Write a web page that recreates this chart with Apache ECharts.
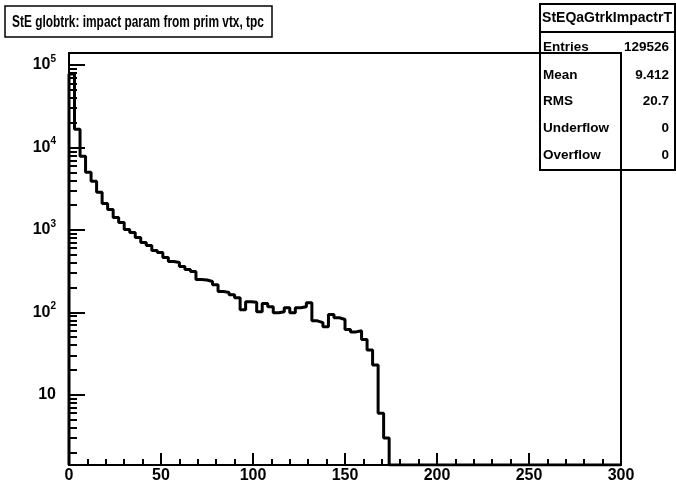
<!DOCTYPE html>
<html>
<head>
<meta charset="utf-8">
<script src="https://cdn.jsdelivr.net/npm/echarts@6/dist/echarts.min.js"></script>
<style>
  html, body { margin: 0; padding: 0; background: #fff; }
  #chart { width: 676px; height: 486px; }
</style>
</head>
<body>
<div id="chart"></div>
<script>
// histogram StEQaGtrkImpactrT : 100 bins, 0..300
var binWidth = 3;
var nBins = 100;
var counts = [
  77700, 16670, 7830, 5000, 3890, 2860, 2100, 1775, 1420, 1233,
  1014, 933, 811, 705, 648, 563, 532, 463, 414, 403,
  360, 331, 313, 250, 247, 237, 217, 179, 174, 164,
  151, 108, 135, 133, 102, 128, 117, 99, 102, 114,
  99, 114, 117, 131, 79, 75, 67, 94, 86, 82,
  62, 58, 60, 47, 35, 23, 6, 3
];
var yMin = 1.41, yMax = 140000;
var yMajorTicks = [10, 100, 1000, 10000, 100000];
var yMinorTicks = [2, 3, 4, 5, 6, 7, 8, 9, 20, 30, 40, 50, 60, 70, 80, 90,
  200, 300, 400, 500, 600, 700, 800, 900, 2000, 3000, 4000, 5000, 6000, 7000, 8000, 9000,
  20000, 30000, 40000, 50000, 60000, 70000, 80000, 90000];

var titleText = 'StE globtrk: impact param from prim vtx, tpc';
var statsTitle = 'StEQaGtrkImpactrT';
var statsNames = ['Entries', 'Mean', 'RMS', 'Underflow', 'Overflow'];
var statsValues = ['129526', '9.412', '20.7', '0', '0'];

var font = '"Liberation Sans", Arial, sans-serif';

// step outline: points at bin low edges, empty bins sit at the axis floor
var pts = [[0, yMin]];
for (var i = 0; i < nBins; i++) {
  var c = i < counts.length ? counts[i] : 0;
  pts.push([i * binWidth, c > 0 ? c : yMin]);
}
pts.push([nBins * binWidth, yMin]);

var graphics = [
  // title box (ROOT text is horizontally squeezed, so the text is scaled)
  {type: 'rect', shape: {x: 5, y: 6, width: 267, height: 31}, z: 10,
   style: {fill: '#fff', stroke: '#000', lineWidth: 1.5}},
  {type: 'text', x: 12, y: 22, scaleX: 0.7, z: 11,
   style: {text: titleText, font: 'bold 17px ' + font, fill: '#000', align: 'left', verticalAlign: 'middle'}},
  // stats box
  {type: 'rect', shape: {x: 540, y: 4, width: 135, height: 166},
   style: {fill: 'none', stroke: '#000', lineWidth: 2}},
  {type: 'line', shape: {x1: 540, y1: 32, x2: 675, y2: 32},
   style: {stroke: '#000', lineWidth: 2}},
  {type: 'text', x: 607, y: 18,
   style: {text: statsTitle, font: 'bold 14px ' + font, fill: '#000', align: 'center', verticalAlign: 'middle'}}
];
var rowY = [47, 75, 101, 128, 155];
statsNames.forEach(function (n, k) {
  graphics.push({type: 'text', x: 543, y: rowY[k],
    style: {text: n, font: 'bold 13.5px ' + font, fill: '#000', align: 'left', verticalAlign: 'middle'}});
  graphics.push({type: 'text', x: 669, y: rowY[k],
    style: {text: statsValues[k], font: 'bold 13.5px ' + font, fill: '#000', align: 'right', verticalAlign: 'middle'}});
});

var chart = echarts.init(document.getElementById('chart'));
chart.setOption({
  animation: false,
  backgroundColor: '#fff',
  grid: {
    left: 69, right: 55, top: 53, bottom: 21,
    show: true, borderColor: '#000', borderWidth: 2, backgroundColor: 'transparent'
  },
  xAxis: {
    type: 'value', min: 0, max: 300, interval: 50,
    axisLine: {lineStyle: {color: '#000', width: 2}},
    axisTick: {inside: true, length: 12, lineStyle: {color: '#000', width: 2}},
    minorTick: {show: true, splitNumber: 5, length: 6, lineStyle: {color: '#000', width: 2}},
    splitLine: {show: false},
    axisLabel: {margin: 3, color: '#000', fontFamily: font, fontWeight: 'bold', fontSize: 16}
  },
  yAxis: [{
    type: 'log', min: yMin, max: yMax, logBase: 10,
    axisLine: {lineStyle: {color: '#000', width: 2}},
    axisTick: {inside: true, length: 16, customValues: yMajorTicks, lineStyle: {color: '#000', width: 2}},
    splitLine: {show: false},
    axisLabel: {
      margin: 13, customValues: yMajorTicks, color: '#000',
      formatter: function (v) {
        var e = Math.round(Math.log10(v));
        return e === 1 ? '{b|10}' : '{b|10}{s|' + e + '}';
      },
      rich: {
        b: {fontFamily: font, fontWeight: 'bold', fontSize: 16, color: '#000'},
        s: {fontFamily: font, fontWeight: 'bold', fontSize: 10, color: '#000', padding: [0, 0, 12, 0]}
      }
    }
  }, {
    type: 'log', min: yMin, max: yMax, logBase: 10, position: 'left',
    axisLine: {show: false},
    axisTick: {inside: true, length: 8, customValues: yMinorTicks, lineStyle: {color: '#000', width: 2}},
    splitLine: {show: false},
    axisLabel: {show: false}
  }],
  series: [{
    type: 'line', step: 'end', data: pts, showSymbol: false, symbol: 'none',
    clip: true,
    lineStyle: {color: '#000', width: 3}
  }],
  graphic: graphics
});
</script>
</body>
</html>
